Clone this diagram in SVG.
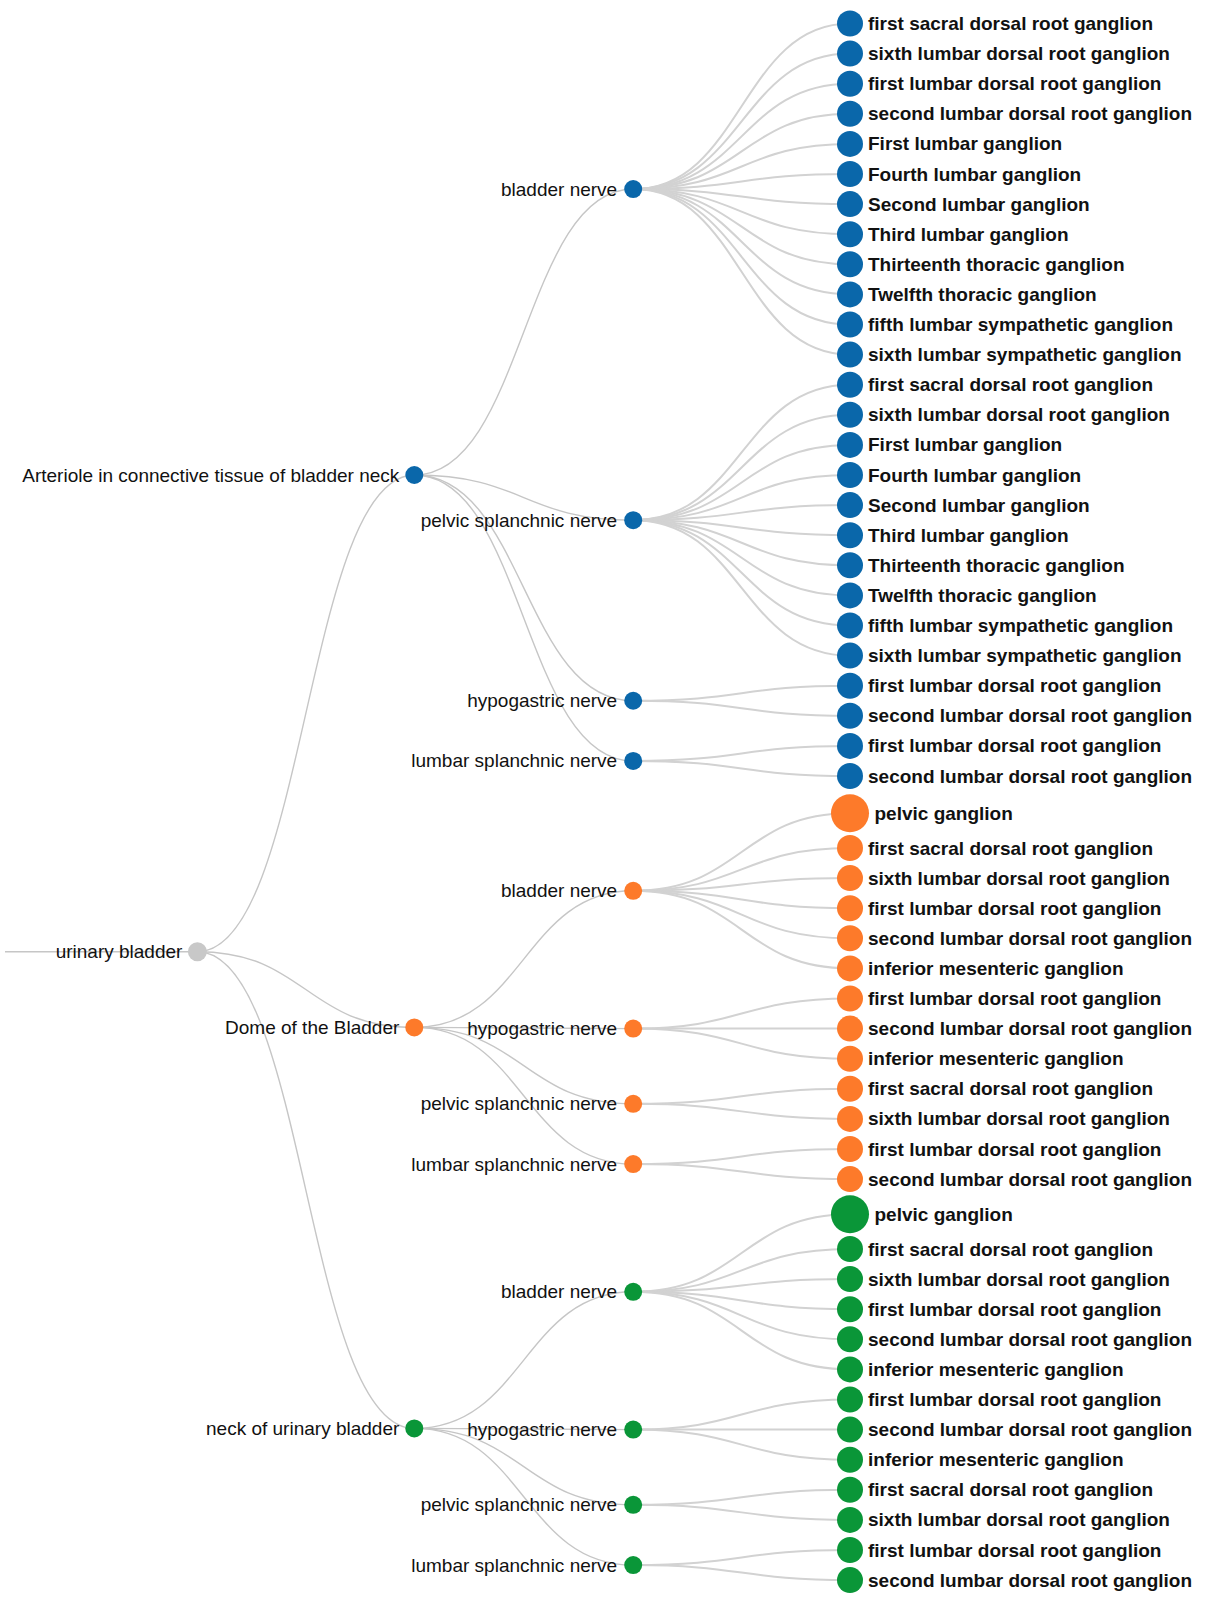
<svg xmlns="http://www.w3.org/2000/svg" width="1205" height="1604" viewBox="0 0 1205 1604">
<style>
.bg{fill:#fff}
.lk{fill:none;stroke:#c6c6c6;stroke-width:1.4}
.lk3{fill:none;stroke:#d2d2d2;stroke-width:2}
.lb{font-family:"Liberation Sans",Arial,sans-serif;font-size:19px;fill:#111;text-anchor:end}
.lf{font-family:"Liberation Sans",Arial,sans-serif;font-size:19px;font-weight:bold;fill:#111}
.b{fill:#0a67aa}.o{fill:#fd7a2a}.g{fill:#0a9638}.r{fill:#c8c8c8}
</style>
<rect class="bg" x="0" y="0" width="1205" height="1604"/>
<g id="links">
<path class="lk" d="M5,951.7H197.4"/>
<path class="lk" d="M197.4,951.7C305.85,951.7 305.85,475 414.3,475"/>
<path class="lk" d="M197.4,951.7C305.85,951.7 305.85,1027.4 414.3,1027.4"/>
<path class="lk" d="M197.4,951.7C305.85,951.7 305.85,1428.4 414.3,1428.4"/>
<path class="lk" d="M414.3,475C523.75,475 523.75,189.05 633.2,189.05"/>
<path class="lk" d="M414.3,475C523.75,475 523.75,520.15 633.2,520.15"/>
<path class="lk" d="M414.3,475C523.75,475 523.75,700.75 633.2,700.75"/>
<path class="lk" d="M414.3,475C523.75,475 523.75,760.95 633.2,760.95"/>
<path class="lk" d="M414.3,1027.4C523.75,1027.4 523.75,890.8 633.2,890.8"/>
<path class="lk" d="M414.3,1027.4C523.75,1027.4 523.75,1028.6 633.2,1028.6"/>
<path class="lk" d="M414.3,1027.4C523.75,1027.4 523.75,1103.85 633.2,1103.85"/>
<path class="lk" d="M414.3,1027.4C523.75,1027.4 523.75,1164.05 633.2,1164.05"/>
<path class="lk" d="M414.3,1428.4C523.75,1428.4 523.75,1291.8 633.2,1291.8"/>
<path class="lk" d="M414.3,1428.4C523.75,1428.4 523.75,1429.6 633.2,1429.6"/>
<path class="lk" d="M414.3,1428.4C523.75,1428.4 523.75,1504.85 633.2,1504.85"/>
<path class="lk" d="M414.3,1428.4C523.75,1428.4 523.75,1565.05 633.2,1565.05"/>
<path class="lk3" d="M633.2,189.05C741.6,189.05 741.6,23.5 850,23.5"/>
<path class="lk3" d="M633.2,189.05C741.6,189.05 741.6,53.6 850,53.6"/>
<path class="lk3" d="M633.2,189.05C741.6,189.05 741.6,83.7 850,83.7"/>
<path class="lk3" d="M633.2,189.05C741.6,189.05 741.6,113.8 850,113.8"/>
<path class="lk3" d="M633.2,189.05C741.6,189.05 741.6,143.9 850,143.9"/>
<path class="lk3" d="M633.2,189.05C741.6,189.05 741.6,174 850,174"/>
<path class="lk3" d="M633.2,189.05C741.6,189.05 741.6,204.1 850,204.1"/>
<path class="lk3" d="M633.2,189.05C741.6,189.05 741.6,234.2 850,234.2"/>
<path class="lk3" d="M633.2,189.05C741.6,189.05 741.6,264.3 850,264.3"/>
<path class="lk3" d="M633.2,189.05C741.6,189.05 741.6,294.4 850,294.4"/>
<path class="lk3" d="M633.2,189.05C741.6,189.05 741.6,324.5 850,324.5"/>
<path class="lk3" d="M633.2,189.05C741.6,189.05 741.6,354.6 850,354.6"/>
<path class="lk3" d="M633.2,520.15C741.6,520.15 741.6,384.7 850,384.7"/>
<path class="lk3" d="M633.2,520.15C741.6,520.15 741.6,414.8 850,414.8"/>
<path class="lk3" d="M633.2,520.15C741.6,520.15 741.6,444.9 850,444.9"/>
<path class="lk3" d="M633.2,520.15C741.6,520.15 741.6,475 850,475"/>
<path class="lk3" d="M633.2,520.15C741.6,520.15 741.6,505.1 850,505.1"/>
<path class="lk3" d="M633.2,520.15C741.6,520.15 741.6,535.2 850,535.2"/>
<path class="lk3" d="M633.2,520.15C741.6,520.15 741.6,565.3 850,565.3"/>
<path class="lk3" d="M633.2,520.15C741.6,520.15 741.6,595.4 850,595.4"/>
<path class="lk3" d="M633.2,520.15C741.6,520.15 741.6,625.5 850,625.5"/>
<path class="lk3" d="M633.2,520.15C741.6,520.15 741.6,655.6 850,655.6"/>
<path class="lk3" d="M633.2,700.75C741.6,700.75 741.6,685.7 850,685.7"/>
<path class="lk3" d="M633.2,700.75C741.6,700.75 741.6,715.8 850,715.8"/>
<path class="lk3" d="M633.2,760.95C741.6,760.95 741.6,745.9 850,745.9"/>
<path class="lk3" d="M633.2,760.95C741.6,760.95 741.6,776 850,776"/>
<path class="lk3" d="M633.2,890.8C741.6,890.8 741.6,813.2 850,813.2"/>
<path class="lk3" d="M633.2,890.8C741.6,890.8 741.6,848 850,848"/>
<path class="lk3" d="M633.2,890.8C741.6,890.8 741.6,878.1 850,878.1"/>
<path class="lk3" d="M633.2,890.8C741.6,890.8 741.6,908.2 850,908.2"/>
<path class="lk3" d="M633.2,890.8C741.6,890.8 741.6,938.3 850,938.3"/>
<path class="lk3" d="M633.2,890.8C741.6,890.8 741.6,968.4 850,968.4"/>
<path class="lk3" d="M633.2,1028.6C741.6,1028.6 741.6,998.5 850,998.5"/>
<path class="lk3" d="M633.2,1028.6C741.6,1028.6 741.6,1028.6 850,1028.6"/>
<path class="lk3" d="M633.2,1028.6C741.6,1028.6 741.6,1058.7 850,1058.7"/>
<path class="lk3" d="M633.2,1103.85C741.6,1103.85 741.6,1088.8 850,1088.8"/>
<path class="lk3" d="M633.2,1103.85C741.6,1103.85 741.6,1118.9 850,1118.9"/>
<path class="lk3" d="M633.2,1164.05C741.6,1164.05 741.6,1149 850,1149"/>
<path class="lk3" d="M633.2,1164.05C741.6,1164.05 741.6,1179.1 850,1179.1"/>
<path class="lk3" d="M633.2,1291.8C741.6,1291.8 741.6,1214.2 850,1214.2"/>
<path class="lk3" d="M633.2,1291.8C741.6,1291.8 741.6,1249 850,1249"/>
<path class="lk3" d="M633.2,1291.8C741.6,1291.8 741.6,1279.1 850,1279.1"/>
<path class="lk3" d="M633.2,1291.8C741.6,1291.8 741.6,1309.2 850,1309.2"/>
<path class="lk3" d="M633.2,1291.8C741.6,1291.8 741.6,1339.3 850,1339.3"/>
<path class="lk3" d="M633.2,1291.8C741.6,1291.8 741.6,1369.4 850,1369.4"/>
<path class="lk3" d="M633.2,1429.6C741.6,1429.6 741.6,1399.5 850,1399.5"/>
<path class="lk3" d="M633.2,1429.6C741.6,1429.6 741.6,1429.6 850,1429.6"/>
<path class="lk3" d="M633.2,1429.6C741.6,1429.6 741.6,1459.7 850,1459.7"/>
<path class="lk3" d="M633.2,1504.85C741.6,1504.85 741.6,1489.8 850,1489.8"/>
<path class="lk3" d="M633.2,1504.85C741.6,1504.85 741.6,1519.9 850,1519.9"/>
<path class="lk3" d="M633.2,1565.05C741.6,1565.05 741.6,1550 850,1550"/>
<path class="lk3" d="M633.2,1565.05C741.6,1565.05 741.6,1580.1 850,1580.1"/>
</g>
<g id="n-root"><circle class="r" cx="197.4" cy="951.7" r="9.5"/><text class="lb" x="182.4" y="958.2">urinary bladder</text></g>
<g id="n-arteriole"><circle class="b" cx="414.3" cy="475" r="9"/><text class="lb" x="399.3" y="481.5">Arteriole in connective tissue of bladder neck</text></g>
<g id="n-dome"><circle class="o" cx="414.3" cy="1027.4" r="9"/><text class="lb" x="399.3" y="1033.9">Dome of the Bladder</text></g>
<g id="n-neck"><circle class="g" cx="414.3" cy="1428.4" r="9"/><text class="lb" x="399.3" y="1434.9">neck of urinary bladder</text></g>
<g id="n-a-bladder"><circle class="b" cx="633.2" cy="189.05" r="9"/><text class="lb" x="617.2" y="195.5">bladder nerve</text></g>
<g id="n-a-pelvic"><circle class="b" cx="633.2" cy="520.15" r="9"/><text class="lb" x="617.2" y="526.6">pelvic splanchnic nerve</text></g>
<g id="n-a-hypo"><circle class="b" cx="633.2" cy="700.75" r="9"/><text class="lb" x="617.2" y="707.2">hypogastric nerve</text></g>
<g id="n-a-lumbar"><circle class="b" cx="633.2" cy="760.95" r="9"/><text class="lb" x="617.2" y="767.4">lumbar splanchnic nerve</text></g>
<g id="n-d-bladder"><circle class="o" cx="633.2" cy="890.8" r="9"/><text class="lb" x="617.2" y="897.3">bladder nerve</text></g>
<g id="n-d-hypo"><circle class="o" cx="633.2" cy="1028.6" r="9"/><text class="lb" x="617.2" y="1035.1">hypogastric nerve</text></g>
<g id="n-d-pelvic"><circle class="o" cx="633.2" cy="1103.85" r="9"/><text class="lb" x="617.2" y="1110.3">pelvic splanchnic nerve</text></g>
<g id="n-d-lumbar"><circle class="o" cx="633.2" cy="1164.05" r="9"/><text class="lb" x="617.2" y="1170.5">lumbar splanchnic nerve</text></g>
<g id="n-n-bladder"><circle class="g" cx="633.2" cy="1291.8" r="9"/><text class="lb" x="617.2" y="1298.3">bladder nerve</text></g>
<g id="n-n-hypo"><circle class="g" cx="633.2" cy="1429.6" r="9"/><text class="lb" x="617.2" y="1436.1">hypogastric nerve</text></g>
<g id="n-n-pelvic"><circle class="g" cx="633.2" cy="1504.85" r="9"/><text class="lb" x="617.2" y="1511.3">pelvic splanchnic nerve</text></g>
<g id="n-n-lumbar"><circle class="g" cx="633.2" cy="1565.05" r="9"/><text class="lb" x="617.2" y="1571.5">lumbar splanchnic nerve</text></g>
<g id="leaf-b01"><circle class="b" cx="850" cy="23.5" r="13"/><text class="lf" x="868" y="30">first sacral dorsal root ganglion</text></g>
<g id="leaf-b02"><circle class="b" cx="850" cy="53.6" r="13"/><text class="lf" x="868" y="60.1">sixth lumbar dorsal root ganglion</text></g>
<g id="leaf-b03"><circle class="b" cx="850" cy="83.7" r="13"/><text class="lf" x="868" y="90.2">first lumbar dorsal root ganglion</text></g>
<g id="leaf-b04"><circle class="b" cx="850" cy="113.8" r="13"/><text class="lf" x="868" y="120.3">second lumbar dorsal root ganglion</text></g>
<g id="leaf-b05"><circle class="b" cx="850" cy="143.9" r="13"/><text class="lf" x="868" y="150.4">First lumbar ganglion</text></g>
<g id="leaf-b06"><circle class="b" cx="850" cy="174" r="13"/><text class="lf" x="868" y="180.5">Fourth lumbar ganglion</text></g>
<g id="leaf-b07"><circle class="b" cx="850" cy="204.1" r="13"/><text class="lf" x="868" y="210.6">Second lumbar ganglion</text></g>
<g id="leaf-b08"><circle class="b" cx="850" cy="234.2" r="13"/><text class="lf" x="868" y="240.7">Third lumbar ganglion</text></g>
<g id="leaf-b09"><circle class="b" cx="850" cy="264.3" r="13"/><text class="lf" x="868" y="270.8">Thirteenth thoracic ganglion</text></g>
<g id="leaf-b10"><circle class="b" cx="850" cy="294.4" r="13"/><text class="lf" x="868" y="300.9">Twelfth thoracic ganglion</text></g>
<g id="leaf-b11"><circle class="b" cx="850" cy="324.5" r="13"/><text class="lf" x="868" y="331">fifth lumbar sympathetic ganglion</text></g>
<g id="leaf-b12"><circle class="b" cx="850" cy="354.6" r="13"/><text class="lf" x="868" y="361.1">sixth lumbar sympathetic ganglion</text></g>
<g id="leaf-b13"><circle class="b" cx="850" cy="384.7" r="13"/><text class="lf" x="868" y="391.2">first sacral dorsal root ganglion</text></g>
<g id="leaf-b14"><circle class="b" cx="850" cy="414.8" r="13"/><text class="lf" x="868" y="421.3">sixth lumbar dorsal root ganglion</text></g>
<g id="leaf-b15"><circle class="b" cx="850" cy="444.9" r="13"/><text class="lf" x="868" y="451.4">First lumbar ganglion</text></g>
<g id="leaf-b16"><circle class="b" cx="850" cy="475" r="13"/><text class="lf" x="868" y="481.5">Fourth lumbar ganglion</text></g>
<g id="leaf-b17"><circle class="b" cx="850" cy="505.1" r="13"/><text class="lf" x="868" y="511.6">Second lumbar ganglion</text></g>
<g id="leaf-b18"><circle class="b" cx="850" cy="535.2" r="13"/><text class="lf" x="868" y="541.7">Third lumbar ganglion</text></g>
<g id="leaf-b19"><circle class="b" cx="850" cy="565.3" r="13"/><text class="lf" x="868" y="571.8">Thirteenth thoracic ganglion</text></g>
<g id="leaf-b20"><circle class="b" cx="850" cy="595.4" r="13"/><text class="lf" x="868" y="601.9">Twelfth thoracic ganglion</text></g>
<g id="leaf-b21"><circle class="b" cx="850" cy="625.5" r="13"/><text class="lf" x="868" y="632">fifth lumbar sympathetic ganglion</text></g>
<g id="leaf-b22"><circle class="b" cx="850" cy="655.6" r="13"/><text class="lf" x="868" y="662.1">sixth lumbar sympathetic ganglion</text></g>
<g id="leaf-b23"><circle class="b" cx="850" cy="685.7" r="13"/><text class="lf" x="868" y="692.2">first lumbar dorsal root ganglion</text></g>
<g id="leaf-b24"><circle class="b" cx="850" cy="715.8" r="13"/><text class="lf" x="868" y="722.3">second lumbar dorsal root ganglion</text></g>
<g id="leaf-b25"><circle class="b" cx="850" cy="745.9" r="13"/><text class="lf" x="868" y="752.4">first lumbar dorsal root ganglion</text></g>
<g id="leaf-b26"><circle class="b" cx="850" cy="776" r="13"/><text class="lf" x="868" y="782.5">second lumbar dorsal root ganglion</text></g>
<g id="leaf-o01"><circle class="o" cx="850" cy="813.2" r="19"/><text class="lf" x="874.5" y="819.7">pelvic ganglion</text></g>
<g id="leaf-o02"><circle class="o" cx="850" cy="848" r="13"/><text class="lf" x="868" y="854.5">first sacral dorsal root ganglion</text></g>
<g id="leaf-o03"><circle class="o" cx="850" cy="878.1" r="13"/><text class="lf" x="868" y="884.6">sixth lumbar dorsal root ganglion</text></g>
<g id="leaf-o04"><circle class="o" cx="850" cy="908.2" r="13"/><text class="lf" x="868" y="914.7">first lumbar dorsal root ganglion</text></g>
<g id="leaf-o05"><circle class="o" cx="850" cy="938.3" r="13"/><text class="lf" x="868" y="944.8">second lumbar dorsal root ganglion</text></g>
<g id="leaf-o06"><circle class="o" cx="850" cy="968.4" r="13"/><text class="lf" x="868" y="974.9">inferior mesenteric ganglion</text></g>
<g id="leaf-o07"><circle class="o" cx="850" cy="998.5" r="13"/><text class="lf" x="868" y="1005">first lumbar dorsal root ganglion</text></g>
<g id="leaf-o08"><circle class="o" cx="850" cy="1028.6" r="13"/><text class="lf" x="868" y="1035.1">second lumbar dorsal root ganglion</text></g>
<g id="leaf-o09"><circle class="o" cx="850" cy="1058.7" r="13"/><text class="lf" x="868" y="1065.2">inferior mesenteric ganglion</text></g>
<g id="leaf-o10"><circle class="o" cx="850" cy="1088.8" r="13"/><text class="lf" x="868" y="1095.3">first sacral dorsal root ganglion</text></g>
<g id="leaf-o11"><circle class="o" cx="850" cy="1118.9" r="13"/><text class="lf" x="868" y="1125.4">sixth lumbar dorsal root ganglion</text></g>
<g id="leaf-o12"><circle class="o" cx="850" cy="1149" r="13"/><text class="lf" x="868" y="1155.5">first lumbar dorsal root ganglion</text></g>
<g id="leaf-o13"><circle class="o" cx="850" cy="1179.1" r="13"/><text class="lf" x="868" y="1185.6">second lumbar dorsal root ganglion</text></g>
<g id="leaf-g01"><circle class="g" cx="850" cy="1214.2" r="19"/><text class="lf" x="874.5" y="1220.7">pelvic ganglion</text></g>
<g id="leaf-g02"><circle class="g" cx="850" cy="1249" r="13"/><text class="lf" x="868" y="1255.5">first sacral dorsal root ganglion</text></g>
<g id="leaf-g03"><circle class="g" cx="850" cy="1279.1" r="13"/><text class="lf" x="868" y="1285.6">sixth lumbar dorsal root ganglion</text></g>
<g id="leaf-g04"><circle class="g" cx="850" cy="1309.2" r="13"/><text class="lf" x="868" y="1315.7">first lumbar dorsal root ganglion</text></g>
<g id="leaf-g05"><circle class="g" cx="850" cy="1339.3" r="13"/><text class="lf" x="868" y="1345.8">second lumbar dorsal root ganglion</text></g>
<g id="leaf-g06"><circle class="g" cx="850" cy="1369.4" r="13"/><text class="lf" x="868" y="1375.9">inferior mesenteric ganglion</text></g>
<g id="leaf-g07"><circle class="g" cx="850" cy="1399.5" r="13"/><text class="lf" x="868" y="1406">first lumbar dorsal root ganglion</text></g>
<g id="leaf-g08"><circle class="g" cx="850" cy="1429.6" r="13"/><text class="lf" x="868" y="1436.1">second lumbar dorsal root ganglion</text></g>
<g id="leaf-g09"><circle class="g" cx="850" cy="1459.7" r="13"/><text class="lf" x="868" y="1466.2">inferior mesenteric ganglion</text></g>
<g id="leaf-g10"><circle class="g" cx="850" cy="1489.8" r="13"/><text class="lf" x="868" y="1496.3">first sacral dorsal root ganglion</text></g>
<g id="leaf-g11"><circle class="g" cx="850" cy="1519.9" r="13"/><text class="lf" x="868" y="1526.4">sixth lumbar dorsal root ganglion</text></g>
<g id="leaf-g12"><circle class="g" cx="850" cy="1550" r="13"/><text class="lf" x="868" y="1556.5">first lumbar dorsal root ganglion</text></g>
<g id="leaf-g13"><circle class="g" cx="850" cy="1580.1" r="13"/><text class="lf" x="868" y="1586.6">second lumbar dorsal root ganglion</text></g>
</svg>
